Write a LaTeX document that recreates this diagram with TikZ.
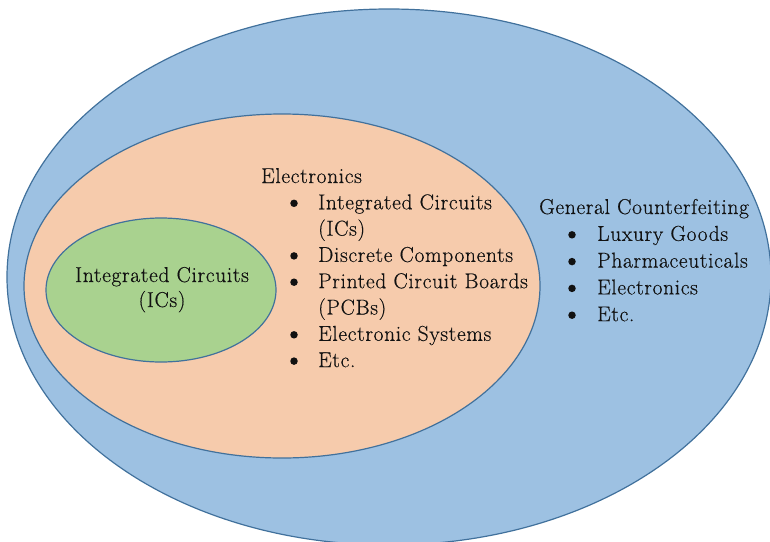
\documentclass[tikz,border=0pt]{standalone}
\usepackage{fontspec}
\setmainfont{Latin Modern Roman}[LetterSpace=3,FakeBold=0.4]
\definecolor{outerblue}{HTML}{9DC1E2}
\definecolor{peach}{HTML}{F6CBAC}
\definecolor{leaf}{HTML}{A9D28F}
\definecolor{rim}{HTML}{41719C}
\definecolor{ink}{HTML}{111111}
\begin{document}
\begin{tikzpicture}[x=1pt,y=-1pt,
  set/.style={draw=rim,line width=1.2pt},
  lbl/.style={inner sep=0pt,anchor=base west,text=ink,font=\fontsize{21.5}{25}\selectfont},
  dot/.style={circle,fill=ink,inner sep=0pt,minimum size=7.5pt}]
\useasboundingbox (0,0) rectangle (770,541);
% nested sets
\path[set,fill=outerblue] (389,277) ellipse [x radius=382pt, y radius=268pt];
\path[set,fill=peach] (282,286) ellipse [x radius=258pt, y radius=172pt];
\path[set,fill=leaf] (161,290) ellipse [x radius=115pt, y radius=72pt];
% innermost label
\node[lbl,anchor=base] (ic1) at (162,282) {Integrated Circuits};
\node[lbl,anchor=base] (ic2) at (162,307) {(ICs)};
% electronics list
\node[lbl] (el) at (261,183) {Electronics};
\foreach \t/\b [count=\i] in {Integrated Circuits/1,(ICs)/0,Discrete Components/1,Printed Circuit Boards/1,(PCBs)/0,Electronic Systems/1,Etc./1}{
  \node[lbl] (e\i) at (318,{183+26.3*\i}) {\t};
  \ifnum\b=1 \node[dot] (eb\i) at (294,{183+26.3*\i-6}) {};\fi
}
% general counterfeiting list
\node[lbl] (gc) at (539,214) {General Counterfeiting};
\foreach \t [count=\i] in {Luxury Goods,Pharmaceuticals,Electronics,Etc.}{
  \node[lbl] (g\i) at (597,{214+26.8*\i}) {\t};
  \node[dot] (gb\i) at (572,{214+26.8*\i-6}) {};
}
\end{tikzpicture}
\end{document}
